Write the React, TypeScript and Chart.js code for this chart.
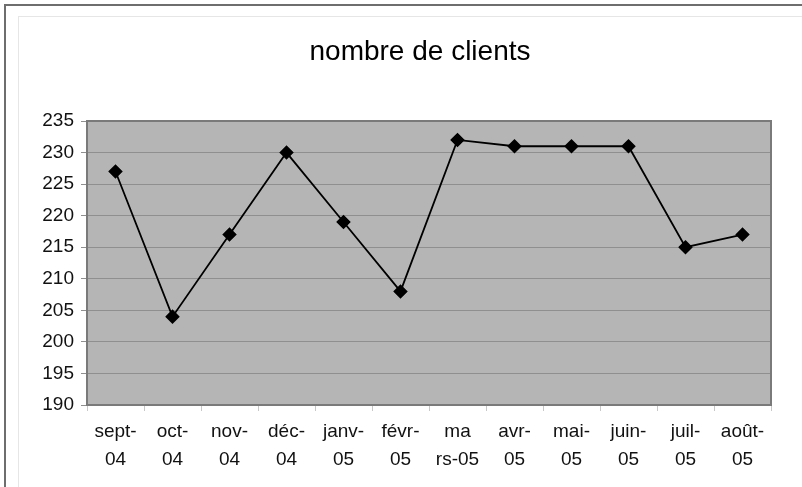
import React, { useEffect, useRef } from "react";
import { Chart, registerables } from "chart.js";

Chart.register(...registerables);

const categories: string[][] = [
  ["sept-", "04"], ["oct-", "04"], ["nov-", "04"], ["déc-", "04"],
  ["janv-", "05"], ["févr-", "05"], ["ma", "rs-05"], ["avr-", "05"],
  ["mai-", "05"], ["juin-", "05"], ["juil-", "05"], ["août-", "05"],
];
const clients: number[] = [227, 204, 217, 230, 219, 208, 232, 231, 231, 231, 215, 217];
const yMin = 190;
const yMax = 235;
const yStep = 5;
const title = "nombre de clients";

const FONT = "'Liberation Sans', Arial, sans-serif";

const plotBg = {
  id: "plotBg",
  beforeDraw(chart: any) {
    const { ctx, chartArea: a } = chart;
    ctx.save();
    ctx.fillStyle = "#b5b5b5";
    ctx.fillRect(a.left, a.top, a.right - a.left, a.bottom - a.top);
    ctx.restore();
  },
  beforeDatasetsDraw(chart: any) {
    const { ctx, chartArea: a } = chart;
    ctx.save();
    ctx.strokeStyle = "#7a7a7a";
    ctx.lineWidth = 2;
    ctx.strokeRect(a.left, a.top, a.right - a.left, a.bottom - a.top);
    ctx.restore();
  },
};

export default function App() {
  const ref = useRef<HTMLCanvasElement>(null);
  useEffect(() => {
    if (!ref.current) return;
    const chart = new Chart(ref.current, {
      type: "line",
      data: {
        labels: categories,
        datasets: [
          {
            data: clients,
            borderColor: "#000",
            borderWidth: 1.8,
            backgroundColor: "#000",
            pointStyle: "rectRot",
            pointRadius: 6,
            pointBackgroundColor: "#000",
            pointBorderColor: "#000",
            tension: 0,
          },
        ],
      },
      options: {
        animation: false,
        responsive: false,
        maintainAspectRatio: false,
        layout: { padding: { top: 0, left: 0, right: 0, bottom: 0 } },
        plugins: {
          legend: { display: false },
          tooltip: { enabled: false },
          title: {
            display: true,
            text: title,
            color: "#000",
            font: { family: FONT, size: 28, weight: "normal", lineHeight: 1.2 },
            padding: { top: 35, bottom: 52.4 },
          },
        },
        scales: {
          x: {
            offset: true,
            grid: {
              offset: true,
              drawOnChartArea: false,
              drawTicks: true,
              tickLength: 6,
              color: "#c8c8c8",
            },
            border: { display: false },
            ticks: {
              color: "#111",
              font: { family: FONT, size: 19, lineHeight: 1.45 },
              padding: 7,
              maxRotation: 0,
              autoSkip: false,
            },
            afterFit: (axis: any) => {
              axis.height = 82;
            },
          },
          y: {
            min: yMin,
            max: yMax,
            grid: {
              color: "#8f8f8f",
              lineWidth: 1,
              drawTicks: true,
              tickLength: 6,
            },
            border: { display: false },
            ticks: {
              stepSize: yStep,
              color: "#111",
              font: { family: FONT, size: 19 },
              padding: 7,
            },
            afterFit: (axis: any) => {
              axis.width = 87;
            },
          },
          spacer: {
            type: "linear",
            position: "right",
            display: true,
            grid: { display: false, drawTicks: false },
            border: { display: false },
            ticks: { display: false },
            afterFit: (axis: any) => {
              axis.width = 69;
            },
          },
        },
      },
      plugins: [plotBg],
    });
    return () => chart.destroy();
  }, []);

  return (
    <div style={{ position: "fixed", left: 0, top: 0, width: 802, height: 487, background: "#fff", overflow: "hidden" }}>
      <div style={{ position: "absolute", left: 4, top: 4, right: -10, height: 2, background: "#6e6e6e" }} />
      <div style={{ position: "absolute", left: 4, top: 4, bottom: -10, width: 2, background: "#6e6e6e" }} />
      <div style={{ position: "absolute", left: 18, top: 16, right: -10, height: 1, background: "#e6e6e6" }} />
      <div style={{ position: "absolute", left: 18, top: 16, bottom: -10, width: 1, background: "#e6e6e6" }} />
      <canvas ref={ref} width={840} height={487} style={{ position: "absolute", left: 0, top: 0 }} />
    </div>
  );
}
